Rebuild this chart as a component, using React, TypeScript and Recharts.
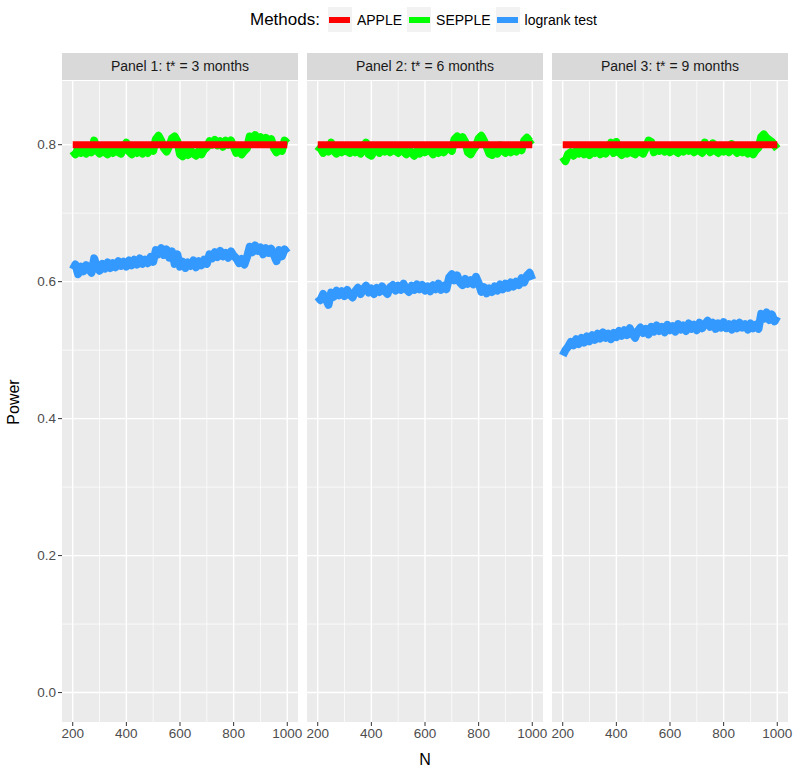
import { CartesianGrid, Line, LineChart, XAxis, YAxis } from 'recharts';

// sample sizes, one point every 10
const SAMPLE_SIZES = [
  200, 210, 220, 230, 240, 250, 260, 270, 280, 290,
  300, 310, 320, 330, 340, 350, 360, 370, 380, 390,
  400, 410, 420, 430, 440, 450, 460, 470, 480, 490,
  500, 510, 520, 530, 540, 550, 560, 570, 580, 590,
  600, 610, 620, 630, 640, 650, 660, 670, 680, 690,
  700, 710, 720, 730, 740, 750, 760, 770, 780, 790,
  800, 810, 820, 830, 840, 850, 860, 870, 880, 890,
  900, 910, 920, 930, 940, 950, 960, 970, 980, 990,
  1000
];

const PANEL_TITLES = [
  'Panel 1: t* = 3 months',
  'Panel 2: t* = 6 months',
  'Panel 3: t* = 9 months'
];

const APPLE_POWER = 0.8;

const SEPPLE_P1 = [
  0.791, 0.786, 0.794, 0.788, 0.793, 0.787, 0.795, 0.789, 0.806, 0.792,
  0.787, 0.794, 0.789, 0.786, 0.793, 0.788, 0.795, 0.789, 0.787, 0.796,
  0.803, 0.790, 0.786, 0.793, 0.788, 0.795, 0.787, 0.792, 0.788, 0.794,
  0.791, 0.808, 0.813, 0.806, 0.795, 0.790, 0.798, 0.809, 0.812, 0.805,
  0.786, 0.783, 0.790, 0.785, 0.792, 0.787, 0.784, 0.791, 0.786, 0.793,
  0.796, 0.805, 0.800, 0.807, 0.799, 0.805, 0.797, 0.806, 0.800, 0.806,
  0.797, 0.788, 0.792, 0.786, 0.791, 0.795, 0.812, 0.807, 0.814, 0.806,
  0.811, 0.804, 0.810, 0.803, 0.808, 0.795, 0.789, 0.797, 0.791, 0.806,
  0.802
];

const LOGRANK_P1 = [
  0.618, 0.625, 0.611, 0.622, 0.615, 0.624, 0.618, 0.613, 0.634, 0.621,
  0.616, 0.626, 0.619, 0.628, 0.620, 0.627, 0.621, 0.630, 0.623, 0.629,
  0.622, 0.631, 0.624, 0.632, 0.625, 0.634, 0.626, 0.632, 0.627, 0.636,
  0.629, 0.646, 0.640, 0.649, 0.639, 0.647, 0.635, 0.644, 0.626, 0.640,
  0.622, 0.629, 0.620, 0.628, 0.623, 0.631, 0.621, 0.630, 0.624, 0.632,
  0.626, 0.640, 0.634, 0.643, 0.636, 0.645, 0.637, 0.642, 0.635, 0.644,
  0.638, 0.634, 0.627, 0.633, 0.625, 0.636, 0.651, 0.643, 0.653, 0.645,
  0.650, 0.640, 0.649, 0.642, 0.648, 0.639, 0.630, 0.646, 0.637, 0.647,
  0.642
];

const SEPPLE_P2 = [
  0.790, 0.795, 0.788, 0.795, 0.790, 0.803, 0.791, 0.787, 0.794, 0.789,
  0.796, 0.790, 0.788, 0.795, 0.789, 0.793, 0.787, 0.794, 0.803, 0.786,
  0.784, 0.790, 0.794, 0.788, 0.795, 0.790, 0.794, 0.789, 0.796, 0.791,
  0.788, 0.795, 0.790, 0.786, 0.793, 0.788, 0.784, 0.791, 0.787, 0.794,
  0.789, 0.796, 0.791, 0.786, 0.793, 0.788, 0.795, 0.789, 0.794, 0.797,
  0.791, 0.808, 0.812, 0.806, 0.811, 0.804, 0.789, 0.786, 0.793, 0.798,
  0.809, 0.813, 0.806, 0.797, 0.787, 0.785, 0.791, 0.787, 0.799, 0.791,
  0.788, 0.795, 0.789, 0.794, 0.790, 0.796, 0.792, 0.806, 0.810, 0.805,
  0.808
];

const LOGRANK_P2 = [
  0.578, 0.573, 0.582, 0.575, 0.566, 0.584, 0.578, 0.587, 0.580, 0.586,
  0.579, 0.588, 0.581, 0.577, 0.586, 0.591, 0.582, 0.589, 0.594, 0.584,
  0.590, 0.582, 0.591, 0.585, 0.593, 0.586, 0.582, 0.592, 0.595, 0.587,
  0.594, 0.588, 0.597, 0.589, 0.585, 0.594, 0.588, 0.596, 0.589, 0.595,
  0.587, 0.593, 0.586, 0.595, 0.589, 0.597, 0.588, 0.594, 0.589, 0.606,
  0.611, 0.602, 0.609, 0.599, 0.595, 0.604, 0.597, 0.602, 0.596, 0.607,
  0.598, 0.585, 0.592, 0.583, 0.590, 0.585, 0.593, 0.587, 0.596, 0.589,
  0.597, 0.591, 0.599, 0.593, 0.600, 0.595, 0.605, 0.599, 0.609, 0.613,
  0.603
];

const SEPPLE_P3 = [
  0.782, 0.776, 0.786, 0.789, 0.784, 0.791, 0.787, 0.793, 0.786, 0.791,
  0.785, 0.792, 0.788, 0.794, 0.786, 0.792, 0.787, 0.793, 0.803, 0.788,
  0.804, 0.789, 0.785, 0.792, 0.787, 0.794, 0.788, 0.786, 0.793, 0.789,
  0.787, 0.795, 0.806, 0.804, 0.789, 0.795, 0.791, 0.796, 0.790, 0.794,
  0.789, 0.795, 0.791, 0.788, 0.795, 0.790, 0.796, 0.791, 0.794, 0.789,
  0.795, 0.791, 0.788, 0.803, 0.794, 0.789, 0.802, 0.791, 0.788, 0.795,
  0.790, 0.794, 0.789, 0.801, 0.793, 0.788, 0.794, 0.789, 0.792, 0.787,
  0.791, 0.786, 0.792, 0.796, 0.811, 0.815, 0.810, 0.807, 0.804, 0.799,
  0.794
];

const LOGRANK_P3 = [
  0.492, 0.500, 0.505, 0.512, 0.507, 0.516, 0.509, 0.518, 0.511, 0.520,
  0.513, 0.522, 0.515, 0.524, 0.517, 0.526, 0.518, 0.524, 0.516, 0.525,
  0.519, 0.528, 0.521, 0.529, 0.522, 0.532, 0.524, 0.518, 0.528, 0.533,
  0.525, 0.531, 0.523, 0.534, 0.527, 0.536, 0.528, 0.534, 0.526, 0.537,
  0.529, 0.535, 0.527, 0.538, 0.530, 0.536, 0.528, 0.539, 0.531, 0.537,
  0.529, 0.540, 0.532, 0.538, 0.543, 0.534, 0.540, 0.531, 0.539, 0.533,
  0.541, 0.532, 0.538, 0.530, 0.539, 0.532, 0.540, 0.533, 0.538, 0.530,
  0.539, 0.532, 0.537, 0.531, 0.553, 0.546, 0.555, 0.544, 0.552, 0.542,
  0.549
];

const SEPPLE_SERIES = [SEPPLE_P1, SEPPLE_P2, SEPPLE_P3];
const LOGRANK_SERIES = [LOGRANK_P1, LOGRANK_P2, LOGRANK_P3];

const X_TICKS = [200, 400, 600, 800, 1000];
const X_MINOR = [300, 500, 700, 900];
const Y_TICKS = [0, 0.2, 0.4, 0.6, 0.8];
const Y_MINOR = [0.1, 0.3, 0.5, 0.7];

const FONT = '"Liberation Sans", Arial, Helvetica, sans-serif';
const PANEL_LEFTS = [62, 307, 552];
const PANEL_W = 236;
const PLOT_TOP = 81;
const PLOT_BOTTOM = 722;
const PAD = 22;

const legendItems = [
  { label: 'APPLE', color: '#FF0000' },
  { label: 'SEPPLE', color: '#00FF00' },
  { label: 'logrank test', color: '#3399FF' }
];

function Panel(props: { index: number }) {
  const i = props.index;
  const first = i === 0;
  const data = SAMPLE_SIZES.map((n, k) => ({
    n,
    apple: APPLE_POWER,
    sepple: SEPPLE_SERIES[i][k],
    logrank: LOGRANK_SERIES[i][k]
  }));
  const yWidth = first ? PANEL_LEFTS[0] : 0;
  const left = first ? 0 : PANEL_LEFTS[i] - PAD;
  const width = (first ? yWidth : PAD) + PANEL_W + PAD;

  return (
    <div style={{ position: 'absolute', left, top: 0 }}>
      <LineChart
        width={width}
        height={774}
        data={data}
        margin={{ top: PLOT_TOP, right: PAD, bottom: 774 - PLOT_BOTTOM - 30, left: first ? 0 : PAD }}
      >
        <CartesianGrid
          horizontalValues={Y_MINOR}
          verticalValues={X_MINOR}
          stroke="#FFFFFF"
          strokeWidth={0.7}
          fill="#EBEBEB"
          fillOpacity={1}
        />
        <CartesianGrid
          horizontalValues={Y_TICKS}
          verticalValues={X_TICKS}
          stroke="#FFFFFF"
          strokeWidth={1.4}
        />
        <XAxis
          type="number"
          dataKey="n"
          domain={[160, 1040]}
          ticks={X_TICKS}
          interval={0}
          allowDataOverflow
          axisLine={false}
          tickSize={4}
          tickLine={{ stroke: '#333333' }}
          tick={{ fill: '#4D4D4D', fontSize: 13.5 }}
          height={30}
        />
        <YAxis
          type="number"
          domain={[-0.043, 0.893]}
          ticks={Y_TICKS}
          interval={0}
          allowDataOverflow
          hide={!first}
          width={yWidth}
          axisLine={false}
          tickSize={4}
          tickLine={{ stroke: '#333333' }}
          tick={{ fill: '#4D4D4D', fontSize: 13.5 }}
          tickFormatter={(v) => Number(v).toFixed(1)}
        />
        <Line
          type="linear"
          dataKey="logrank"
          stroke="#3399FF"
          strokeWidth={8}
          strokeLinejoin="round"
          dot={false}
          activeDot={false}
          isAnimationActive={false}
        />
        <Line
          type="linear"
          dataKey="sepple"
          stroke="#00FF00"
          strokeWidth={8}
          strokeLinejoin="round"
          dot={false}
          activeDot={false}
          isAnimationActive={false}
        />
        <Line
          type="linear"
          dataKey="apple"
          stroke="#FF0000"
          strokeWidth={7}
          dot={false}
          activeDot={false}
          isAnimationActive={false}
        />
      </LineChart>
    </div>
  );
}

export default function App() {
  return (
    <div
      style={{
        position: 'absolute',
        left: 0,
        top: 0,
        width: 800,
        height: 774,
        background: '#FFFFFF',
        fontFamily: FONT
      }}
    >
      {/* legend */}
      <div
        style={{
          position: 'absolute',
          top: 7,
          left: 250,
          height: 25,
          display: 'flex',
          alignItems: 'center',
          color: '#000000'
        }}
      >
        <span style={{ fontSize: 17, marginRight: 8 }}>Methods:</span>
        {legendItems.map((item) => (
          <span key={item.label} style={{ display: 'flex', alignItems: 'center', marginRight: 5 }}>
            <span
              style={{
                width: 24,
                height: 25,
                background: '#F2F2F2',
                display: 'flex',
                alignItems: 'center',
                justifyContent: 'center'
              }}
            >
              <span style={{ width: 21, height: 6, background: item.color }} />
            </span>
            <span style={{ fontSize: 14, marginLeft: 5 }}>{item.label}</span>
          </span>
        ))}
      </div>

      {PANEL_TITLES.map((title, i) => (
        <div
          key={title}
          style={{
            position: 'absolute',
            left: PANEL_LEFTS[i],
            top: 53,
            width: PANEL_W,
            height: 27,
            background: '#D9D9D9',
            color: '#1A1A1A',
            fontSize: 14,
            lineHeight: '27px',
            textAlign: 'center'
          }}
        >
          {title}
        </div>
      ))}

      {PANEL_TITLES.map((title, i) => (
        <Panel key={title} index={i} />
      ))}

      <div
        style={{
          position: 'absolute',
          left: 14,
          top: (PLOT_TOP + PLOT_BOTTOM) / 2,
          transform: 'translate(-50%, -50%) rotate(-90deg)',
          fontSize: 16,
          color: '#000000'
        }}
      >
        Power
      </div>
      <div
        style={{
          position: 'absolute',
          left: 425,
          top: 760,
          transform: 'translate(-50%, -50%)',
          fontSize: 16,
          color: '#000000'
        }}
      >
        N
      </div>
    </div>
  );
}
